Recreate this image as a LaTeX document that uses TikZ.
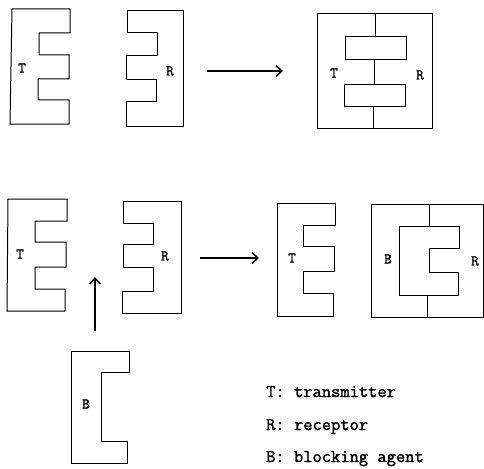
\documentclass[tikz,border=0pt]{standalone}
\usepackage{fontspec}
\newfontfamily\typew{Latin Modern Mono}[FakeBold=1.6]
\usetikzlibrary{arrows.meta}
\begin{document}
\begin{tikzpicture}[x=1pt,y=-1pt,
  part/.style={draw=black,line width=1pt,line join=miter},
  divider/.style={draw=black,line width=1pt},
  arr/.style={draw=black,line width=1.7pt,-{Straight Barb[length=6pt,width=11pt,line width=1.5pt]}},
  lbl/.style={inner sep=0pt,font=\typew\bfseries\fontsize{15}{15}\selectfont},
  key/.style={inner sep=0pt,anchor=base west,font=\typew\bfseries\fontsize{18}{18}\selectfont}]
\useasboundingbox (0,0) rectangle (484,468);

% ---- top row: transmitter and receptor apart ----
\draw[part] (12,9) -- (70,9) -- (70,33) -- (39,33) -- (39,55) -- (69,55) -- (69,79)
  -- (38,79) -- (38,100) -- (69,100) -- (69,124) -- (10,124) -- cycle;
\node[lbl] (t1) at (22,68) {T};
\draw[part] (127,11) -- (183,11) -- (183,126) -- (126,126) -- (126,102) -- (156,102)
  -- (156,80) -- (126,80) -- (126,56) -- (157,56) -- (157,33) -- (127,33) -- cycle;
\node[lbl] (r1) at (170,71) {R};

\coordinate (a1s) at (207,71);
\coordinate (a1e) at (283,71);
\draw[arr] (a1s) -- (a1e);

% ---- top row: transmitter bound to receptor ----
\draw[part] (317,14) rectangle (432,128);
\draw[part] (345,37) rectangle (406,60);
\draw[part] (344,85) rectangle (405,107);
\draw[divider] (375,14) -- (375,37);
\draw[divider] (374,60) -- (374,85);
\draw[divider] (373,107) -- (373,128);
\node[lbl] (t2) at (334,73) {T};
\node[lbl] (r2) at (420,75) {R};

% ---- bottom row: transmitter, receptor and blocking agent ----
\draw[part] (8,199) -- (67,199) -- (67,221) -- (35,221) -- (35,242) -- (66,242) -- (66,267)
  -- (35,267) -- (35,289) -- (65,289) -- (65,311) -- (7,311) -- cycle;
\node[lbl] (t3) at (20,254) {T};
\draw[part] (123,201) -- (181,201) -- (181,313) -- (122,313) -- (122,291) -- (153,291)
  -- (153,267) -- (123,267) -- (123,244) -- (153,244) -- (153,223) -- (123,223) -- cycle;
\node[lbl] (r3) at (165,256) {R};

\coordinate (a2s) at (95,331);
\coordinate (a2e) at (95,277);
\draw[arr] (a2s) -- (a2e);

\draw[part] (71,351) -- (129,351) -- (129,372) -- (101,372) -- (101,441) -- (127,441)
  -- (127,463) -- (71,463) -- cycle;
\node[lbl] (b1) at (86,404) {B};

\coordinate (a3s) at (200,258);
\coordinate (a3e) at (259,258);
\draw[arr] (a3s) -- (a3e);

% ---- bottom row: free transmitter, receptor occupied by blocker ----
\draw[part] (277,203) -- (335,203) -- (335,225) -- (303,225) -- (303,246) -- (334,246)
  -- (334,271) -- (303,271) -- (303,293) -- (333,293) -- (333,316) -- (277,316) -- cycle;
\node[lbl] (t4) at (292,258) {T};
\draw[part] (371,204) rectangle (483,317);
\draw[part] (399,226) -- (459,226) -- (459,248) -- (429,248) -- (429,272) -- (458,272)
  -- (458,295) -- (399,295) -- cycle;
\draw[divider] (429,204) -- (429,226);
\draw[divider] (427,295) -- (427,317);
\node[lbl] (b2) at (388,259) {B};
\node[lbl] (r4) at (475,261) {R};

% ---- key ----
\node[key] (k1) at (266,397) {T: transmitter};
\node[key] (k2) at (266,430) {R: receptor};
\node[key] (k3) at (266,462) {B: blocking agent};
\end{tikzpicture}
\end{document}
